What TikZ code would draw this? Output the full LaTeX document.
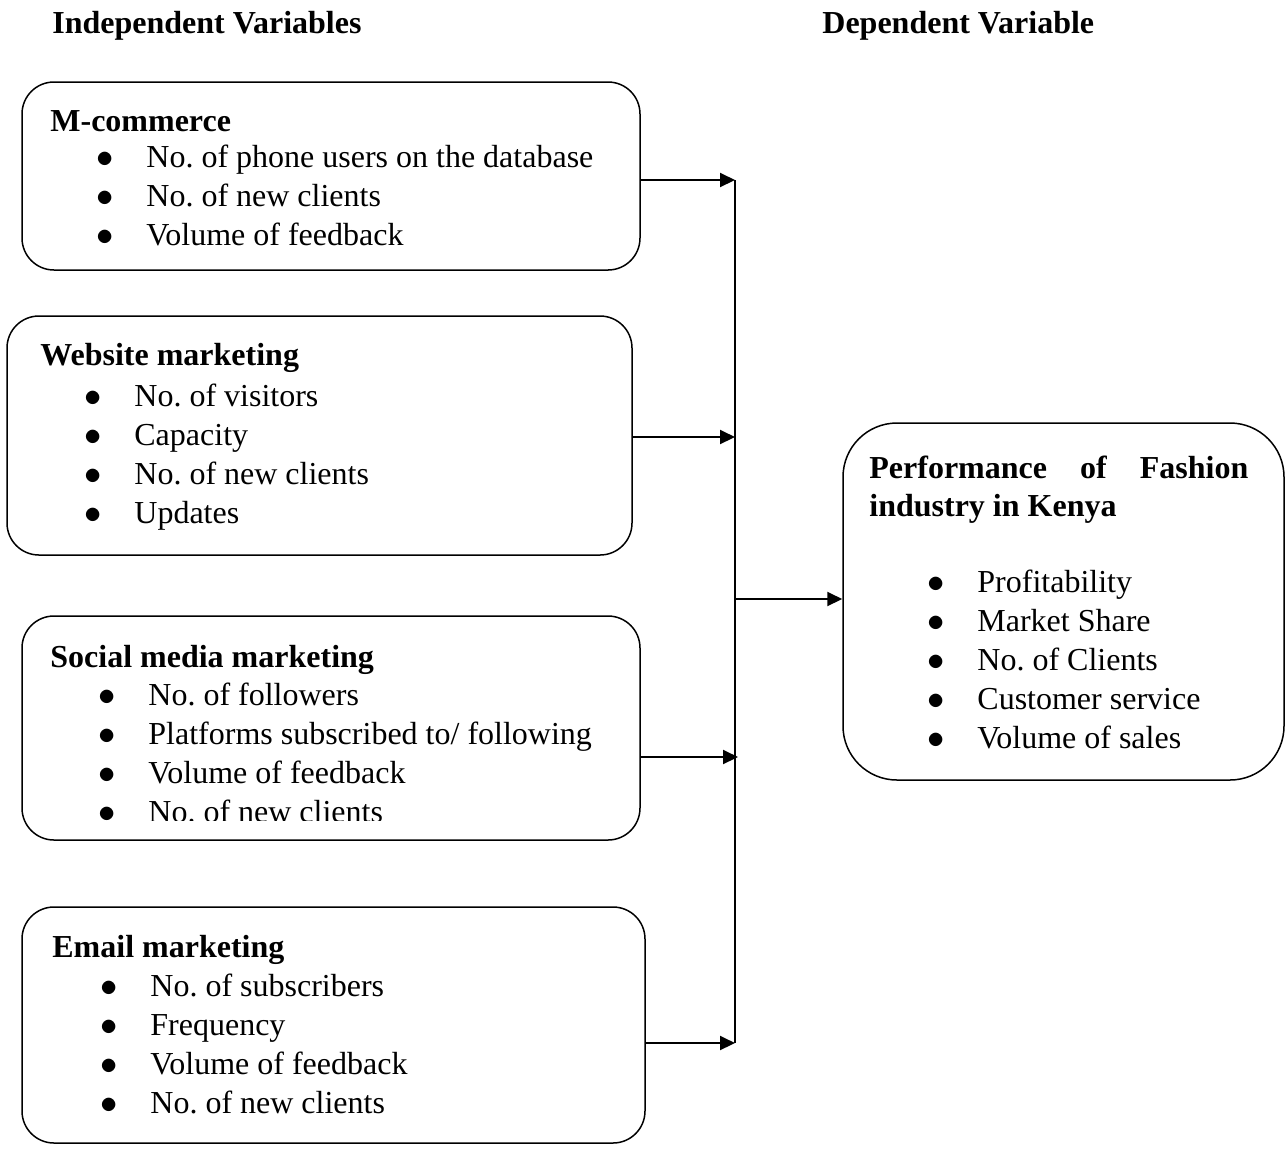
\documentclass[tikz,border=0pt]{standalone}
\usepackage{fontspec}
\setmainfont{Liberation Serif}
\usetikzlibrary{arrows.meta,fit}
\frenchspacing
\newcommand{\itm}[1]{\llap{$\bullet$\hspace{16.5pt}}#1}

\begin{document}
\begin{tikzpicture}[x=0.5pt,y=-0.5pt,
    every node/.style={inner sep=0pt,font=\fontsize{16pt}{19.5pt}\selectfont},
    box/.style={draw,line width=0.75pt,rounded corners=16pt},
    head/.style={anchor=base west,font=\fontsize{16pt}{19.5pt}\selectfont\bfseries},
    txt/.style={anchor=base west},
    arr/.style={line width=1pt,-{Triangle[length=7.5pt,width=7pt]}}]
        \useasboundingbox (0,0) rectangle (1285,1148);
        \node[head] (indep) at (52,33) {Independent Variables};
        \node[head] (dep) at (822,33) {Dependent Variable};

        \node[box,fit={(22,82) (640,270)}] (mcom) {};
        \node[head] (mcomt) at (50,131) {M-commerce};
        \foreach \y/\t [count=\i] in {167/No. of phone users on the database,206/No. of new clients,245/Volume of feedback} {
            \node[txt] (mcom\i) at (146,\y) {\itm{\t}};
        }

        \node[box,fit={(7,316) (632,555)}] (web) {};
        \node[head] (webt) at (40,365) {Website marketing};
        \foreach \y/\t [count=\i] in {406/No. of visitors,445/Capacity,484/No. of new clients,523/Updates} {
            \node[txt] (web\i) at (134,\y) {\itm{\t}};
        }

        \node[box,fit={(22,616) (640,840)}] (soc) {};
        \node[head] (soct) at (50,667) {Social media marketing};
        \scope
            \clip (0,600) rectangle (700,820);
            \foreach \y/\t [count=\i] in {705/No. of followers,744/{Platforms subscribed to/ following},783/Volume of feedback,822/No. of new clients} {
                \node[txt] (soc\i) at (148,\y) {\itm{\t}};
            }
        \endscope

        \node[box,fit={(22,907) (645,1143)}] (mail) {};
        \node[head] (mailt) at (52,957) {Email marketing};
        \foreach \y/\t [count=\i] in {996/No. of subscribers,1035/Frequency,1074/Volume of feedback,1113/No. of new clients} {
            \node[txt] (mail\i) at (150,\y) {\itm{\t}};
        }

        \node[box,rounded corners=27pt,fit={(843,423) (1284,780)}] (perf) {};
        \node[head] (perft1) at (869,478) {\makebox[189.5pt][s]{Performance of Fashion}};
        \node[head] (perft2) at (869,516) {industry in Kenya};
        \foreach \y/\t [count=\i] in {592/Profitability,631/Market Share,670/No. of Clients,709/Customer service,748/Volume of sales} {
            \node[txt] (perf\i) at (977,\y) {\itm{\t}};
        }

        \coordinate (j1) at (735,180);
        \coordinate (j2) at (735,437);
        \coordinate (j3) at (738,757);
        \coordinate (j4) at (735,1043);
        \coordinate (jm) at (735,599);
        \draw[line width=1pt] (j1) -- (j4);
        \draw[arr] (mcom.east |- j1) -- (j1);
        \draw[arr] (web.east |- j2) -- (j2);
        \draw[arr] (soc.east |- j3) -- (j3);
        \draw[arr] (mail.east |- j4) -- (j4);
        \draw[arr] (jm) -- (perf.west |- jm);
\end{tikzpicture}
\end{document}
